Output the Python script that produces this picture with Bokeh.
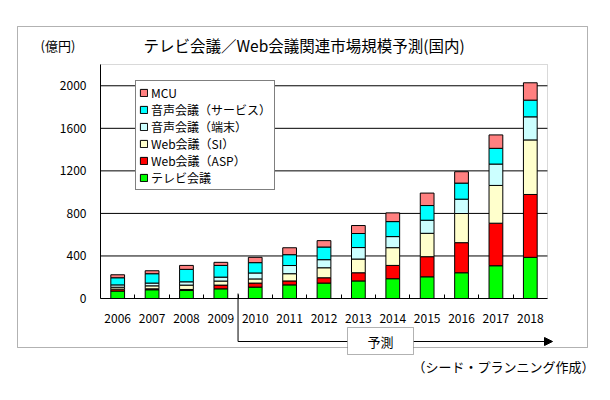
from bokeh.plotting import figure
from bokeh.models import (ColumnDataSource, FixedTicker, Legend, LegendItem, Label,
                          BoxAnnotation, Arrow, NormalHead, Range1d)
from bokeh.embed import file_html
from bokeh.resources import INLINE

# ---- data (億円) ----
years = [2006, 2007, 2008, 2009, 2010, 2011, 2012, 2013, 2014, 2015, 2016, 2017, 2018]
tv_conf = [70, 82, 75, 91, 107, 128, 145, 165, 186, 204, 242, 308, 387]
web_asp = [18, 9, 10, 35, 38, 37, 50, 77, 125, 189, 283, 400, 591]
web_si = [18, 28, 41, 38, 39, 68, 94, 129, 167, 220, 274, 355, 513]
voice_term = [22, 26, 31, 37, 56, 77, 76, 108, 104, 123, 135, 201, 217]
voice_svc = [67, 88, 117, 110, 97, 102, 119, 132, 141, 138, 151, 148, 157]
mcu = [28, 28, 37, 29, 50, 65, 60, 75, 82, 117, 107, 126, 163]

series_keys = ["tv", "asp", "si", "term", "svc", "mcu"]
series_labels = ["テレビ会議", "Web会議（ASP）", "Web会議（SI）", "音声会議（端末）", "音声会議（サービス）", "MCU"]
series_colors = ["#00FF00", "#FF0000", "#FFFFCC", "#CCFFFF", "#00FFFF", "#FF8080"]
y_ticks = [0, 400, 800, 1200, 1600, 2000]
y_max = 2200
forecast_start = 2009.5   # boundary between 2009 (actual) and 2010 (forecast)

title_text = "テレビ会議／Web会議関連市場規模予測(国内)"
unit_text = "(億円)"
forecast_text = "予測"
source_text = "（シード・プランニング作成）"

FONT = "Noto Sans CJK JP"

# ---- layout (canvas pixels) ----
W, H = 610, 400
PL, PR, PT, PB = 100, 547, 64, 298          # plot area edges
x_lo, x_hi = years[0] - 0.5, years[-1] + 0.5
kx = (PR - PL) / (x_hi - x_lo)
ky = (PB - PT) / y_max
x_range = Range1d(x_lo - PL / kx, x_hi + (W - PR) / kx)
y_range = Range1d(-(H - PB) / ky, y_max + PT / ky)

src = ColumnDataSource(dict(year=years, tv=tv_conf, asp=web_asp, si=web_si,
                            term=voice_term, svc=voice_svc, mcu=mcu))

p = figure(width=W, height=H, output_backend="svg", toolbar_location=None,
           x_range=x_range, y_range=y_range,
           min_border=0, background_fill_color="white", border_fill_color="white")
p.title.visible = False
p.outline_line_color = None
p.xgrid.visible = False
p.ygrid.visible = False

# plot-area border (gray top/right; left/bottom covered by axes)
p.add_layout(BoxAnnotation(left=x_lo, right=x_hi, bottom=0, top=y_max,
                           fill_color=None, fill_alpha=0, line_color="#808080",
                           line_width=1, level="underlay"))

# horizontal grid lines
p.segment(x0=x_lo, x1=x_hi, y0=y_ticks[1:], y1=y_ticks[1:], line_color="black",
          line_width=1, level="underlay")

rends = p.vbar_stack(series_keys, x="year", width=0.4, source=src,
                     fill_color=series_colors, line_color="black", line_width=1)

# axes fixed at the plot area edges
xa = p.xaxis[0]
xa.fixed_location = 0
xa.bounds = (x_lo, x_hi)
xa.ticker = FixedTicker(ticks=years, minor_ticks=[y + 0.5 for y in years[:-1]])
xa.major_tick_in = 0
xa.major_tick_out = 0
xa.minor_tick_in = 4
xa.minor_tick_out = 0
xa.minor_tick_line_color = "black"
xa.axis_line_color = "black"
xa.major_label_standoff = 15
xa.major_label_text_font = FONT
xa.major_label_text_font_size = "12px"
xa.major_label_text_color = "black"

ya = p.yaxis[0]
ya.fixed_location = x_lo
ya.bounds = (0, y_max)
ya.ticker = FixedTicker(ticks=y_ticks)
ya.major_tick_in = 0
ya.major_tick_out = 0
ya.minor_tick_line_color = None
ya.axis_line_color = "black"
ya.major_label_standoff = 14
ya.major_label_text_font = FONT
ya.major_label_text_font_size = "12px"
ya.major_label_text_color = "black"

# legend (location = bottom-left corner, pixels from canvas bottom-left)
items = [LegendItem(label=series_labels[i], renderers=[rends[i]]) for i in reversed(range(len(rends)))]
legend = Legend(items=items, location=(135, H - 190), orientation="vertical",
                label_text_font=FONT, label_text_font_size="12px", label_text_color="black",
                glyph_width=9, glyph_height=9, label_standoff=3, label_height=17,
                spacing=0, padding=3, margin=0,
                border_line_color="black", border_line_width=1,
                background_fill_color="white", background_fill_alpha=1)
p.add_layout(legend)

def sy(y):
    return H - y

# outer frame
p.add_layout(BoxAnnotation(left=17, right=587, top=sy(26), bottom=sy(347),
                           left_units="screen", right_units="screen",
                           top_units="screen", bottom_units="screen",
                           fill_color=None, fill_alpha=0, line_color="black", line_width=1))

# titles
p.add_layout(Label(x=143, y=sy(44), x_units="screen", y_units="screen", text=title_text,
                   text_font=FONT, text_font_size="15.5px", text_baseline="middle",
                   text_align="left", text_color="black"))
p.add_layout(Label(x=40, y=sy(45), x_units="screen", y_units="screen", text=unit_text,
                   text_font=FONT, text_font_size="13px", text_baseline="middle",
                   text_align="left", text_color="black"))

# forecast marker
fx = PL + (forecast_start - x_lo) * kx
p.add_layout(Arrow(x_start=fx, y_start=sy(293), x_end=fx, y_end=sy(341),
                   start_units="screen", end_units="screen", end=None,
                   line_color="black", line_width=1))
p.add_layout(Arrow(x_start=fx, y_start=sy(341), x_end=347, y_end=sy(341),
                   start_units="screen", end_units="screen", end=None,
                   line_color="black", line_width=1))
p.add_layout(Arrow(x_start=413, y_start=sy(341), x_end=552, y_end=sy(341),
                   start_units="screen", end_units="screen",
                   end=NormalHead(size=8, fill_color="black", line_color="black"),
                   line_color="black", line_width=1))
p.add_layout(BoxAnnotation(left=347, right=413, top=sy(327), bottom=sy(354),
                           left_units="screen", right_units="screen",
                           top_units="screen", bottom_units="screen",
                           fill_color="white", fill_alpha=1, line_color="black", line_width=1))
p.add_layout(Label(x=380, y=sy(341), x_units="screen", y_units="screen", text=forecast_text,
                   text_font=FONT, text_font_size="13px", text_baseline="middle",
                   text_align="center", text_color="black"))

# source note
p.add_layout(Label(x=594, y=sy(366), x_units="screen", y_units="screen", text=source_text,
                   text_font=FONT, text_font_size="13px", text_baseline="middle",
                   text_align="right", text_color="black"))

open("out.html", "w").write(file_html(p, INLINE))
